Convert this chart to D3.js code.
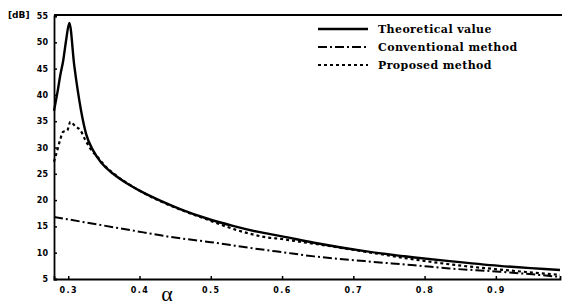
<!DOCTYPE html>
<html>
<head>
<meta charset="utf-8">
<script src="https://cdn.jsdelivr.net/npm/d3@7"></script>
<style>
  body { margin: 0; background: #fff; }
  svg { display: block; }
</style>
</head>
<body>
<svg id="chart" width="562" height="305"></svg>
<script>
// values
const theoretical = [
  [0.280, 37], [0.2855, 41], [0.2885, 43.5], [0.293, 46.6], [0.297, 50.4],
  [0.3015, 53.7], [0.3085, 45.5], [0.318, 37], [0.325, 32.6], [0.335, 29.4],
  [0.347, 27.0], [0.363, 25.0], [0.382, 23.2], [0.400, 21.8], [0.429, 19.9],
  [0.457, 18.3], [0.4945, 16.5], [0.531, 15.1], [0.565, 14.0], [0.600, 13.1],
  [0.645, 11.9], [0.716, 10.3], [0.786, 9.1], [0.835, 8.4], [0.905, 7.5], [0.990, 6.7]
];
const conventional = [
  [0.280, 16.8], [0.331, 15.6], [0.387, 14.3], [0.443, 13.0], [0.500, 12],
  [0.561, 10.8], [0.600, 10.1], [0.645, 9.3], [0.716, 8.4], [0.786, 7.6],
  [0.835, 7.0], [0.905, 6.4], [0.990, 5.4]
];
const proposed = [
  [0.280, 27.3], [0.2835, 28.9], [0.2885, 31.4], [0.293, 33], [0.2985, 33.2],
  [0.303, 34.9], [0.310, 34], [0.317, 33.3], [0.324, 31.4], [0.333, 29.4],
  [0.340, 28.4], [0.351, 26.6], [0.369, 24.5], [0.400, 21.8], [0.4665, 17.7],
  [0.499, 16.1], [0.523, 14.9], [0.555, 13.6], [0.579, 12.9], [0.600, 12.6],
  [0.624, 12.1], [0.645, 11.7], [0.716, 10.2], [0.786, 8.7], [0.835, 7.8],
  [0.905, 6.8], [0.990, 5.8]
];
const xTicks = [0.3, 0.4, 0.5, 0.6, 0.7, 0.8, 0.9];
const yTicks = [5, 10, 15, 20, 25, 30, 35, 40, 45, 50, 55];
const legendNames = ["Theoretical value", "Conventional method", "Proposed method"];

const svg = d3.select("#chart");
const padLeft = 54, padRight = 560, padTop = 16, padBottom = 279;

const x = d3.scaleLinear().domain([0.28, 0.99]).range([padLeft, padRight]);
const y = d3.scaleLinear().domain([5, 55]).range([padBottom, padTop]);

// axes: ticks point inward
const xAxis = d3.axisBottom(x).tickValues(xTicks).tickSize(-3).tickPadding(8)
  .tickFormat(d3.format(".1f"));
const yAxis = d3.axisLeft(y).tickValues(yTicks).tickSize(-3).tickPadding(6)
  .tickFormat(d3.format("d"));

const gx = svg.append("g").attr("transform", "translate(0," + padBottom + ")").call(xAxis);
const gy = svg.append("g").attr("transform", "translate(" + padLeft + ",0)").call(yAxis);

[gx, gy].forEach(function (g) {
  g.select(".domain").attr("stroke", "#000").attr("stroke-width", 1.8);
  g.selectAll(".tick line").attr("stroke", "#000").attr("stroke-width", 1.5);
  g.selectAll(".tick text")
    .attr("font-family", "DejaVu Sans, sans-serif")
    .attr("font-weight", "bold")
    .attr("font-size", 8)
    .attr("fill", "#000");
});
gx.selectAll(".tick text").attr("letter-spacing", 1.5);

// top frame line
svg.append("line")
  .attr("x1", padLeft).attr("x2", 562)
  .attr("y1", padTop - 1).attr("y2", padTop - 1)
  .attr("stroke", "#000").attr("stroke-width", 2);

// axis labels
svg.append("text")
  .attr("x", 8).attr("y", 18)
  .attr("font-family", "DejaVu Sans, sans-serif")
  .attr("font-weight", "bold").attr("font-size", 9)
  .text("[dB]");
svg.append("text")
  .attr("x", 167).attr("y", 301)
  .attr("text-anchor", "middle")
  .attr("font-family", "Liberation Serif, serif")
  .attr("font-size", 22)
  .text("α");

// curves
const line = d3.line()
  .x(function (d) { return x(d[0]); })
  .y(function (d) { return y(d[1]); })
  .curve(d3.curveMonotoneX);

const series = [
  { data: theoretical, dash: null, width: 2.4 },
  { data: conventional, dash: "9,3,2,3", width: 2 },
  { data: proposed, dash: "3,3", width: 2.2 }
];

svg.selectAll("path.curve")
  .data(series).enter().append("path")
  .attr("class", "curve")
  .attr("d", function (d) { return line(d.data); })
  .attr("fill", "none")
  .attr("stroke", "#000")
  .attr("stroke-width", function (d) { return d.width; })
  .attr("stroke-dasharray", function (d) { return d.dash; });

// legend
const lg = svg.append("g");
legendNames.forEach(function (name, i) {
  const ly = 29 + i * 18;
  lg.append("line")
    .attr("x1", 318).attr("x2", 368)
    .attr("y1", ly).attr("y2", ly)
    .attr("stroke", "#000")
    .attr("stroke-width", series[i].width)
    .attr("stroke-dasharray", series[i].dash);
  lg.append("text")
    .attr("x", 378).attr("y", ly + 4)
    .attr("font-family", "DejaVu Serif, serif")
    .attr("font-weight", "bold")
    .attr("font-size", 11)
    .attr("letter-spacing", 0.4)
    .text(name);
});
</script>
</body>
</html>
